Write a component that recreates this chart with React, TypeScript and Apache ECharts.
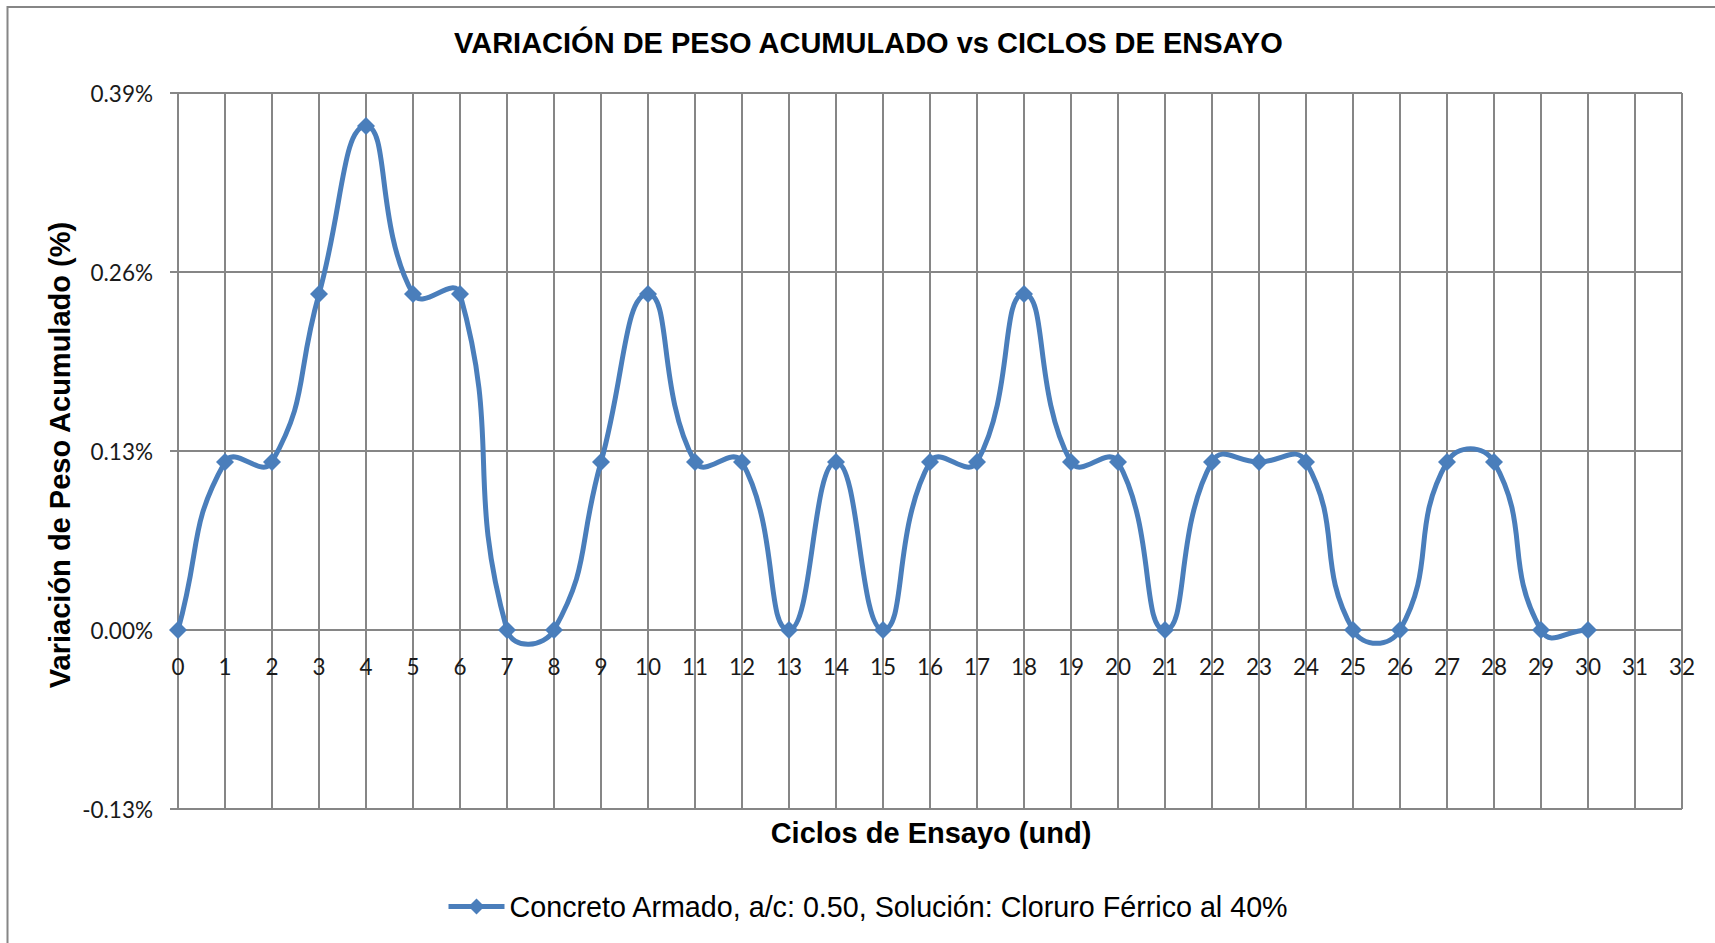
import React, { useEffect, useRef } from "react";
import * as echarts from "echarts";

const cycles = [0, 1, 2, 3, 4, 5, 6, 7, 8, 9, 10, 11, 12, 13, 14, 15, 16, 17, 18, 19, 20, 21, 22, 23, 24, 25, 26, 27, 28, 29, 30];
const weightVariation = [0, 0.122, 0.122, 0.244, 0.366, 0.244, 0.244, 0, 0, 0.122, 0.244, 0.122, 0.122, 0, 0.122, 0, 0.122, 0.122, 0.244, 0.122, 0.122, 0, 0.122, 0.122, 0.122, 0, 0, 0.122, 0.122, 0, 0];
const seriesName = "Concreto Armado, a/c: 0.50, Solución: Cloruro Férrico al 40%";
const chartTitle = "VARIACIÓN DE PESO ACUMULADO vs CICLOS DE ENSAYO";
const xAxisTitle = "Ciclos de Ensayo (und)";
const yAxisTitle = "Variación de Peso Acumulado (%)";
const yMin = -0.13;
const yMax = 0.39;
const yStep = 0.13;

const SMOOTH = 0.5;

export default function App() {
  const ref = useRef<HTMLDivElement>(null);
  useEffect(() => {
    if (!ref.current) return;
    const chart = echarts.init(ref.current, null, { renderer: "svg" });
    const gridColor = "#868686";
    const blue = "#4A7EBB";
    const n = cycles.length;
    const gridTop = 93;
    const gridBottom = 134;
    const plotHeight = 943 - gridTop - gridBottom;
    // place the x axis where the value axis crosses zero
    const zeroOffset = -plotHeight * (0 - yMin) / (yMax - yMin);

    const renderCurve = (params: any, api: any) => {
      const i = params.dataIndex;
      if (i >= n - 1) return null;
      const P = (j: number) => {
        const k = Math.max(0, Math.min(n - 1, j));
        return api.coord([cycles[k], weightVariation[k]]) as number[];
      };
      const p0 = P(i - 1);
      const p1 = P(i);
      const p2 = P(i + 1);
      const p3 = P(i + 2);
      const dist = (a: number[], b: number[]) => Math.hypot(a[0] - b[0], a[1] - b[1]);
      const lPrev1 = dist(p1, p0);
      const lNext1 = dist(p2, p1);
      const r1 = lNext1 + lPrev1 > 0 ? lNext1 / (lNext1 + lPrev1) : 0.5;
      const cp1 = [p1[0] + (p2[0] - p0[0]) * SMOOTH * r1, p1[1] + (p2[1] - p0[1]) * SMOOTH * r1];
      const lPrev2 = dist(p2, p1);
      const lNext2 = dist(p3, p2);
      const r2 = lPrev2 + lNext2 > 0 ? lPrev2 / (lPrev2 + lNext2) : 0.5;
      const cp2 = [p2[0] - (p3[0] - p1[0]) * SMOOTH * r2, p2[1] - (p3[1] - p1[1]) * SMOOTH * r2];
      return {
        type: "bezierCurve",
        shape: {
          x1: p1[0], y1: p1[1],
          x2: p2[0], y2: p2[1],
          cpx1: cp1[0], cpy1: cp1[1],
          cpx2: cp2[0], cpy2: cp2[1],
        },
        style: { stroke: blue, lineWidth: 5, fill: "none", lineCap: "round" },
        silent: true,
      };
    };

    chart.setOption({
      animation: false,
      backgroundColor: "#ffffff",
      title: {
        text: chartTitle,
        left: 454,
        top: 28,
        padding: 0,
        textStyle: { fontFamily: "Liberation Sans, Arial", fontWeight: "bold", fontSize: 29, color: "#000" },
      },
      grid: { left: 178, right: 33, top: gridTop, bottom: gridBottom },
      legend: {
        left: 446,
        top: 892,
        padding: 0,
        itemWidth: 56,
        itemHeight: 20,
        data: [seriesName],
        lineStyle: { opacity: 1, width: 5, color: blue },
        textStyle: { fontFamily: "Liberation Sans, Arial", fontSize: 28.7, color: "#000" },
      },
      xAxis: {
        type: "value",
        min: 0,
        max: 32,
        interval: 1,
        position: "bottom",
        offset: zeroOffset,
        axisLine: { onZero: false, lineStyle: { color: gridColor, width: 2 } },
        axisTick: { show: false },
        splitLine: { show: true, lineStyle: { color: gridColor, width: 2 } },
        axisLabel: { fontFamily: "Lato", fontSize: 22.5, color: "#1a1a1a", margin: 25 },
      },
      yAxis: {
        type: "value",
        min: yMin,
        max: yMax,
        interval: yStep,
        axisLine: { show: true, onZero: false, lineStyle: { color: gridColor, width: 2 } },
        axisTick: { show: true, length: 8, lineStyle: { color: gridColor, width: 2 } },
        splitLine: { show: true, lineStyle: { color: gridColor, width: 2 } },
        axisLabel: {
          fontFamily: "Lato",
          fontSize: 22.5,
          color: "#1a1a1a",
          margin: 25,
          formatter: (v: number) => v.toFixed(2) + "%",
        },
      },
      series: [
        {
          name: "curve",
          type: "custom",
          renderItem: renderCurve,
          data: cycles.map((c, i) => [c, weightVariation[i]]),
          encode: { x: 0, y: 1 },
          silent: true,
          z: 2,
        },
        {
          name: seriesName,
          type: "line",
          data: cycles.map((c, i) => [c, weightVariation[i]]),
          symbol: "diamond",
          symbolSize: [18, 18],
          showAllSymbol: true,
          itemStyle: { color: blue },
          lineStyle: { color: blue, width: 5, opacity: 0 },
          z: 3,
        },
      ],
      graphic: [
        {
          type: "rect",
          shape: { x: 7.5, y: 7, width: 1800, height: 1000 },
          style: { fill: "none", stroke: gridColor, lineWidth: 2 },
          silent: true,
        },
        {
          type: "text",
          x: 931,
          y: 833,
          style: {
            text: xAxisTitle,
            textAlign: "center",
            textVerticalAlign: "middle",
            fontFamily: "Liberation Sans, Arial",
            fontWeight: "bold",
            fontSize: 29,
            fill: "#000",
          },
        },
        {
          type: "text",
          x: 60,
          y: 455,
          rotation: Math.PI / 2,
          style: {
            text: yAxisTitle,
            textAlign: "center",
            textVerticalAlign: "middle",
            fontFamily: "Liberation Sans, Arial",
            fontWeight: "bold",
            fontSize: 29,
            fill: "#000",
          },
        },
      ],
    });
    return () => chart.dispose();
  }, []);
  return (
    <div
      ref={ref}
      style={{ position: "fixed", left: 0, top: 0, width: 1715, height: 943 }}
    />
  );
}
